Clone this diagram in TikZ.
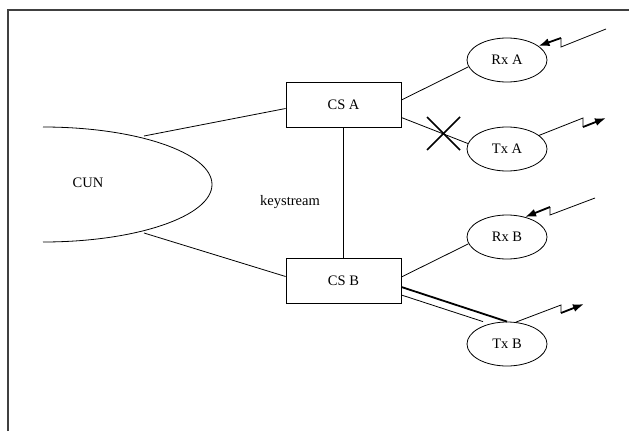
\documentclass[tikz,border=0pt]{standalone}
\usepackage{fontspec}
\setmainfont{Liberation Serif}
\usetikzlibrary{shapes.geometric,arrows.meta}
\begin{document}
\begin{tikzpicture}
            [x=1pt, y=-1pt, font=\fontsize{14.5}{16}\selectfont,
        station/.style={draw, line width=0.8pt, minimum width=115pt, minimum height=45pt},
        radio/.style={ellipse, draw, line width=0.8pt, minimum width=80pt, minimum height=44pt, inner sep=0pt},
        link/.style={line width=0.8pt},
        bolt/.style={line width=0.8pt},
        boltTip/.style={line width=1.8pt, -{Latex[length=11pt, width=8pt]}}]
            \useasboundingbox (0,0) rectangle (629,431);
            \draw[line width=1.2pt, black!75] (8,431) -- (8,10) -- (629,10);

            % core network
            \coordinate (cunC) at (43,184.5);
            \draw[link] (43,127) arc[start angle=-90, end angle=90, x radius=169, y radius=57.5];
            \node (cun) at (88,183) {CUN};
            \coordinate (cunN) at (144,136);
            \coordinate (cunS) at (144,233);

            \node[station] (csA) at (343.5,104.5) {CS A};
            \node[station] (csB) at (343.5,280.5) {CS B};
            \node (key) at (290,202) {keystream};

            \node[radio] (rxA) at (507,60) {Rx A};
            \node[radio] (txA) at (507,149) {Tx A};
            \node[radio] (rxB) at (507,237) {Rx B};
            \node[radio] (txB) at (507,344) {Tx B};

            \draw[link] (cunN) -- ([yshift=-4pt]csA.west);
            \draw[link] (cunS) -- ([yshift=4pt]csB.west);
            \draw[link] (csA) -- (csB);

            \draw[link] ([yshift=4.5pt]csA.east) -- (rxA.190);
            \draw[link] ([yshift=-13pt]csA.east) -- (txA.172);
            \draw[link] ([yshift=3.5pt]csB.east) -- (rxB.190);
            \draw[line width=1.8pt] ([yshift=-6.5pt]csB.east) -- (txB.north);
            \draw[link] ([yshift=-14.5pt]csB.east) -- ([xshift=-24pt]txB.north);

            % blocked transmission
            \draw[line width=1.6pt] (427,117) -- (460,150);
            \draw[line width=1.6pt] (460,117) -- (427,150);

            % air links
            \draw[bolt] (606,29) -- (561,47) -- (561,38);
            \draw[boltTip] (561,38) -- (rxA.24);
            \draw[bolt] (txA.23) -- (583,118) -- (583,127);
            \draw[boltTip] (583,127) -- (606,118);
            \draw[bolt] (595,198) -- (550,215) -- (550,207);
            \draw[boltTip] (550,207) -- (rxB.48);
            \draw[bolt] (txB.68) -- (561,305) -- (561,313);
            \draw[boltTip] (561,313) -- (584,304);
        \end{tikzpicture}
\end{document}
